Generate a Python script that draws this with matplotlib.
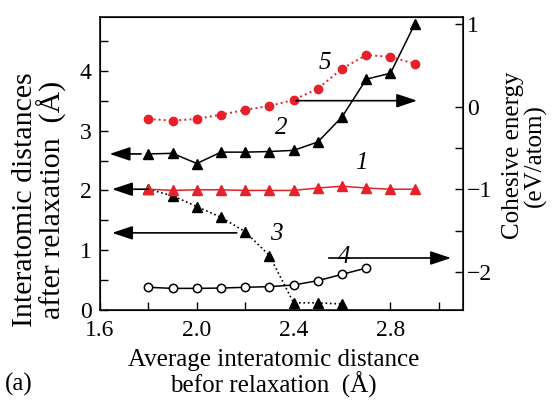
import matplotlib
matplotlib.use("Agg")
import matplotlib.pyplot as plt
from matplotlib.ticker import FixedLocator

plt.rcParams["font.family"] = ["Liberation Serif", "DejaVu Serif"]
plt.rcParams["mathtext.fontset"] = "custom"
plt.rcParams["mathtext.rm"] = "Liberation Serif"

RED = "#e8202a"
SERIF = ["Liberation Serif", "DejaVu Serif"]

# curve 1: red triangles, left axis
x1 = [1.8, 1.9, 2.0, 2.1, 2.2, 2.3, 2.4, 2.5, 2.6, 2.7, 2.8, 2.9]
y1 = [2.02, 2.00, 2.01, 2.01, 2.00, 2.00, 2.00, 2.04, 2.07, 2.04, 2.02, 2.02]
# curve 2: black triangles solid, left axis
x2 = [1.8, 1.9, 2.0, 2.1, 2.2, 2.3, 2.4, 2.5, 2.6, 2.7, 2.8, 2.9]
y2 = [2.61, 2.62, 2.45, 2.64, 2.64, 2.65, 2.67, 2.81, 3.23, 3.86, 3.96, 4.78]
# curve 3: black triangles dotted, left axis
x3 = [1.8, 1.9, 2.0, 2.1, 2.2, 2.3, 2.4, 2.5, 2.6]
y3 = [2.02, 1.91, 1.73, 1.55, 1.31, 0.91, 0.12, 0.12, 0.10]
# curve 4: open circles, right axis (cohesive energy)
x4 = [1.8, 1.9, 2.0, 2.1, 2.2, 2.3, 2.4, 2.5, 2.6, 2.7]
e4 = [-2.185, -2.198, -2.198, -2.194, -2.185, -2.177, -2.157, -2.105, -2.028, -1.952]
# curve 5: red dots dotted, right axis
x5 = [1.8, 1.9, 2.0, 2.1, 2.2, 2.3, 2.4, 2.5, 2.6, 2.7, 2.8, 2.9]
e5 = [-0.145, -0.166, -0.145, -0.093, -0.036, 0.012, 0.085, 0.222, 0.464, 0.630, 0.606, 0.525]

xticks = [1.6, 2.0, 2.4, 2.8]
xtick_labels = ["1.6", "2.0", "2.4", "2.8"]
yticks = [0, 1, 2, 3, 4]
ytick_labels = ["0", "1", "2", "3", "4"]
eticks = [-2, -1, 0, 1]
etick_labels = ["\u22122", "\u22121", "0", "1"]

fig = plt.figure(figsize=(5.52, 4.0), dpi=100)
ax = fig.add_axes([0.181, 0.225, 0.658, 0.7325])
ax2 = ax.twinx()

ax.set_xlim(1.6, 3.1)
ax.set_ylim(0, 4.9)
ax2.set_ylim(-2.46, 1.09)

ax.plot(x2, y2, "-", color="black", lw=1.1, marker="^", ms=6.8, zorder=3)
ax.plot(x3, y3, ":", color="black", lw=1.2, marker="^", ms=6.8, zorder=3)
ax.plot(x1, y1, "-", color=RED, lw=1.1, marker="^", ms=6.8, zorder=3)
ax2.plot(x5, e5, ":", color=RED, lw=1.4, marker="o", ms=6, zorder=3)
ax2.plot(x4, e4, "-", color="black", lw=1.1, marker="o", ms=6,
         markerfacecolor="white", markeredgewidth=1.1, zorder=3)

arrow = dict(arrowstyle="-|>,head_length=0.9,head_width=0.3", color="black",
             lw=1.2, shrinkA=0, shrinkB=0, mutation_scale=14)
ax.annotate("", xy=(1.64, 2.61), xytext=(1.77, 2.61), arrowprops=arrow)
ax.annotate("", xy=(1.65, 2.02), xytext=(1.80, 2.02), arrowprops=arrow)
ax.annotate("", xy=(1.65, 1.29), xytext=(2.165, 1.29), arrowprops=arrow)
ax2.annotate("", xy=(2.91, 0.076), xytext=(2.41, 0.076), arrowprops=arrow)
ax2.annotate("", xy=(3.05, -1.83), xytext=(2.545, -1.83), arrowprops=arrow)

lab = dict(fontsize=18, style="italic", ha="center", va="center", family=SERIF)
ax.text(2.53, 4.13, "5", **lab)
ax.text(2.35, 3.04, "2", **lab)
ax.text(2.68, 2.46, "1", **lab)
ax.text(2.33, 1.27, "3", **lab)
ax.text(2.61, 0.89, "4", **lab)

ax.xaxis.set_major_locator(FixedLocator(xticks))
ax.xaxis.set_minor_locator(FixedLocator([1.8, 2.2, 2.6, 3.0]))
ax.set_xticklabels(xtick_labels, fontsize=17, family=SERIF)
ax.yaxis.set_major_locator(FixedLocator(yticks))
ax.yaxis.set_minor_locator(FixedLocator([0.5, 1.5, 2.5, 3.5, 4.5]))
ax.set_yticklabels(ytick_labels, fontsize=17, family=SERIF)
ax2.yaxis.set_major_locator(FixedLocator(eticks))
ax2.yaxis.set_minor_locator(FixedLocator([-1.5, -0.5]))
ax2.set_yticklabels(etick_labels, fontsize=17, family=SERIF)

for a in (ax, ax2):
    a.tick_params(which="both", direction="in", length=6, width=1)
ax.tick_params(axis="x", which="both", top=False, pad=7)
ax.tick_params(axis="y", which="both", right=False, pad=6)
ax2.tick_params(axis="y", which="both", left=False, pad=3)
for s in ax.spines.values():
    s.set_linewidth(1.1)

fig.text(0.072, 0.5, "Interatomic distances\nafter relaxation  (Å)", fontsize=21.5,
         rotation=90, ha="center", va="center", linespacing=0.95, family=SERIF)
fig.text(0.95, 0.612, "Cohesive energy\n(eV/atom)", fontsize=18,
         rotation=90, ha="center", va="center", linespacing=1.0, family=SERIF)
fig.text(0.495, 0.066, "Average interatomic distance\nbefor relaxation  (Å)",
         fontsize=18, ha="center", va="center", linespacing=1.0, family=SERIF)
fig.text(0.008, 0.038, "(a)", fontsize=18, ha="left", va="center", family=SERIF)

fig.savefig("out.png", dpi=100)
